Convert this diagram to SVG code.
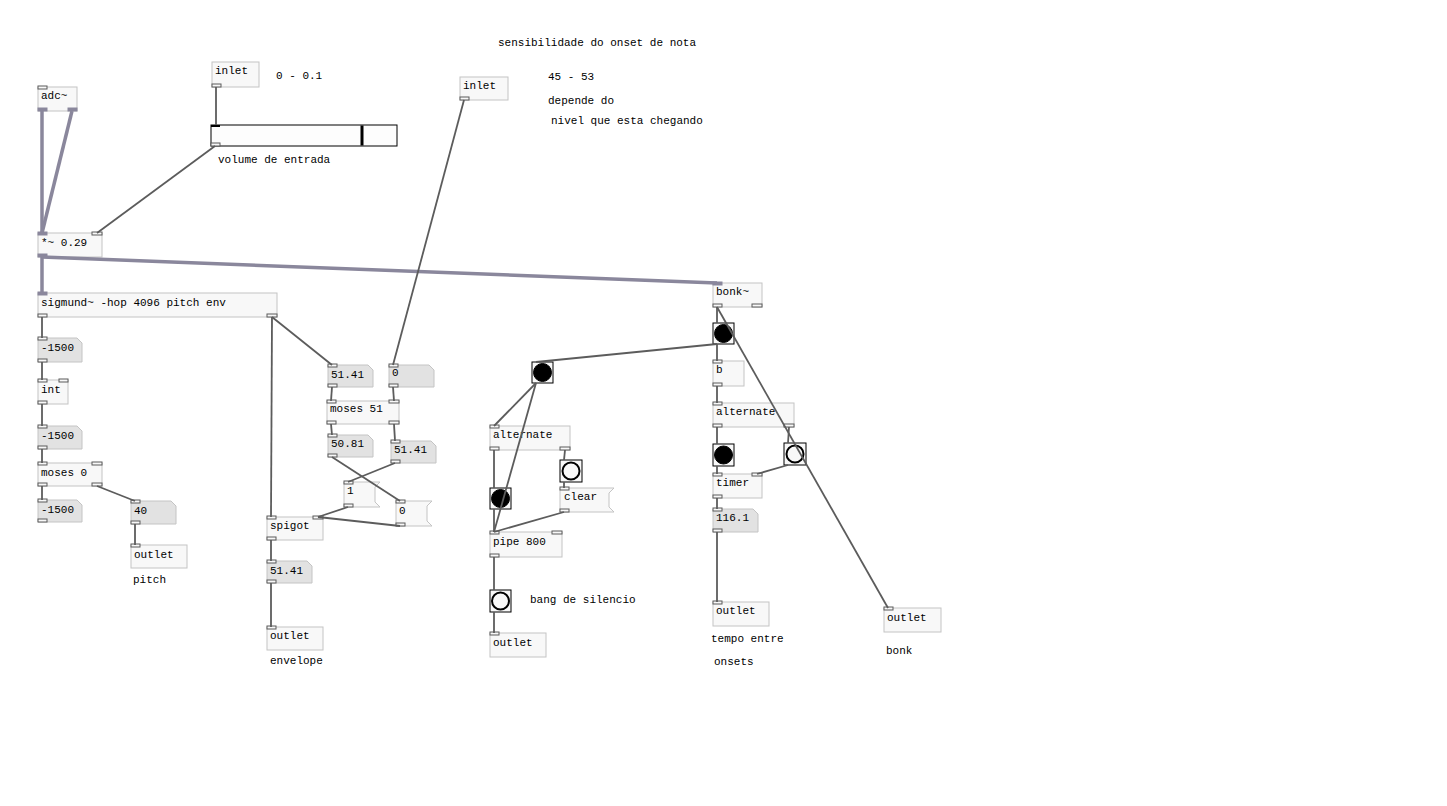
<svg xmlns="http://www.w3.org/2000/svg" width="1447" height="806" viewBox="0 0 1447 806">
<style>
.obj{fill:#f8f8f8;stroke:#c4c4c4;stroke-width:1}
.num{fill:#e2e2e2;stroke:#c4c4c4;stroke-width:1}
.io{fill:#f8f8f8;stroke:#5a5a5a;stroke-width:1}
.sio{fill:#8a879c;stroke:#8a879c;stroke-width:1}
.t{font-family:"Liberation Mono","DejaVu Sans Mono",monospace;font-size:11px;fill:#000}
.c{stroke:#5c5c5c;stroke-width:1.8;fill:none}
.s{stroke:#8a879c;stroke-width:3.5;fill:none}
.bg{fill:#f8f8f8;stroke:#000;stroke-width:1}
.on{fill:#000;stroke:#000;stroke-width:1}
.off{fill:none;stroke:#000;stroke-width:2}
</style>
<rect width="1447" height="806" fill="#fff"/>

<g id="adc">
<rect class="obj" x="38" y="87" width="39" height="24"/>
<rect class="io" x="38" y="86" width="9" height="3"/>
<rect class="sio" x="38" y="108" width="9" height="3"/>
<rect class="sio" x="68" y="108" width="9" height="3"/>
<text class="t" x="41" y="99">adc~</text>
</g>
<g id="inlet1">
<rect class="obj" x="212" y="62" width="47" height="25"/>
<rect class="io" x="212" y="84" width="9" height="3"/>
<text class="t" x="215" y="74">inlet</text>
</g>
<g id="slider">
<rect x="211" y="125" width="186" height="21" fill="#fdfdfd" stroke="#000" stroke-width="1"/>
<rect x="360.5" y="125.5" width="3" height="20" fill="#000"/>
<rect x="211" y="125" width="9" height="2" fill="#000"/>
<rect class="io" x="211" y="143" width="9" height="3"/>
</g>
<g id="mul">
<rect class="obj" x="38" y="233" width="64" height="24"/>
<rect class="sio" x="38" y="232" width="9" height="3"/>
<rect class="io" x="92" y="232" width="10" height="3"/>
<rect class="sio" x="38" y="254" width="9" height="3"/>
<text class="t" x="41" y="246">*~ 0.29</text>
</g>
<g id="sigmund">
<rect class="obj" x="38" y="293" width="239" height="24"/>
<rect class="sio" x="38" y="292" width="9" height="3"/>
<rect class="io" x="38" y="314" width="9" height="3"/>
<rect class="io" x="267" y="314" width="10" height="3"/>
<text class="t" x="41" y="306">sigmund~ -hop 4096 pitch env</text>
</g>
<g id="numA">
<polygon class="num" points="38,338 77,338 82,343 82,362 38,362"/>
<rect class="io" x="38" y="337" width="9" height="3"/>
<rect class="io" x="38" y="359" width="9" height="3"/>
<text class="t" x="41" y="351">-1500</text>
</g>
<g id="int">
<rect class="obj" x="38" y="380" width="30" height="24"/>
<rect class="io" x="38" y="379" width="9" height="3"/>
<rect class="io" x="59" y="379" width="9" height="3"/>
<rect class="io" x="38" y="401" width="9" height="3"/>
<text class="t" x="41" y="393">int</text>
</g>
<g id="numB">
<polygon class="num" points="38,426 77,426 82,431 82,449 38,449"/>
<rect class="io" x="38" y="425" width="9" height="3"/>
<rect class="io" x="38" y="446" width="9" height="3"/>
<text class="t" x="41" y="439">-1500</text>
</g>
<g id="moses0">
<rect class="obj" x="38" y="463" width="64" height="23"/>
<rect class="io" x="38" y="462" width="9" height="3"/>
<rect class="io" x="92" y="462" width="10" height="3"/>
<rect class="io" x="38" y="483" width="9" height="3"/>
<rect class="io" x="92" y="483" width="10" height="3"/>
<text class="t" x="41" y="476">moses 0</text>
</g>
<g id="numC">
<polygon class="num" points="38,500 77,500 82,505 82,522 38,522"/>
<rect class="io" x="38" y="499" width="9" height="3"/>
<rect class="io" x="38" y="519" width="9" height="3"/>
<text class="t" x="41" y="513">-1500</text>
</g>
<g id="num40">
<polygon class="num" points="131,501 171,501 176,506 176,524 131,524"/>
<rect class="io" x="131" y="500" width="9" height="3"/>
<rect class="io" x="131" y="521" width="9" height="3"/>
<text class="t" x="134" y="514">40</text>
</g>
<g id="outletPitch">
<rect class="obj" x="131" y="545" width="56" height="23"/>
<rect class="io" x="131" y="544" width="9" height="3"/>
<text class="t" x="134" y="558">outlet</text>
</g>
<g id="inlet2">
<rect class="obj" x="460" y="77" width="48" height="23"/>
<rect class="io" x="460" y="97" width="9" height="3"/>
<text class="t" x="463" y="89">inlet</text>
</g>
<g id="num5141a">
<polygon class="num" points="328,365 368,365 373,370 373,387 328,387"/>
<rect class="io" x="328" y="364" width="9" height="3"/>
<rect class="io" x="328" y="384" width="9" height="3"/>
<text class="t" x="331" y="378">51.41</text>
</g>
<g id="num0">
<polygon class="num" points="389,365 429,365 434,370 434,387 389,387"/>
<rect class="io" x="389" y="364" width="9" height="3"/>
<rect class="io" x="389" y="384" width="9" height="3"/>
<text class="t" x="392" y="376">0</text>
</g>
<g id="moses51">
<rect class="obj" x="327" y="401" width="72" height="23"/>
<rect class="io" x="327" y="400" width="9" height="3"/>
<rect class="io" x="389" y="400" width="10" height="3"/>
<rect class="io" x="327" y="421" width="9" height="3"/>
<rect class="io" x="389" y="421" width="10" height="3"/>
<text class="t" x="330" y="412">moses 51</text>
</g>
<g id="num5081">
<polygon class="num" points="328,435 368,435 373,440 373,457 328,457"/>
<rect class="io" x="328" y="434" width="9" height="3"/>
<rect class="io" x="328" y="454" width="9" height="3"/>
<text class="t" x="331" y="447">50.81</text>
</g>
<g id="num5141b">
<polygon class="num" points="391,441 431,441 436,446 436,463 391,463"/>
<rect class="io" x="391" y="440" width="9" height="3"/>
<rect class="io" x="391" y="460" width="9" height="3"/>
<text class="t" x="394" y="453">51.41</text>
</g>
<g id="msg1">
<polygon class="obj" points="344,482 380,482 375,487 375,502 380,507 344,507"/>
<rect class="io" x="344" y="481" width="9" height="3"/>
<rect class="io" x="344" y="504" width="9" height="3"/>
<text class="t" x="347" y="494">1</text>
</g>
<g id="msg0">
<polygon class="obj" points="396,501 432,501 427,506 427,521 432,526 396,526"/>
<rect class="io" x="396" y="500" width="9" height="3"/>
<rect class="io" x="396" y="523" width="9" height="3"/>
<text class="t" x="399" y="514">0</text>
</g>
<g id="spigot">
<rect class="obj" x="267" y="517" width="56" height="23"/>
<rect class="io" x="267" y="516" width="9" height="3"/>
<rect class="io" x="313" y="516" width="10" height="3"/>
<rect class="io" x="267" y="537" width="9" height="3"/>
<text class="t" x="270" y="529">spigot</text>
</g>
<g id="num5141c">
<polygon class="num" points="267,561 307,561 312,566 312,583 267,583"/>
<rect class="io" x="267" y="560" width="9" height="3"/>
<rect class="io" x="267" y="580" width="9" height="3"/>
<text class="t" x="270" y="574">51.41</text>
</g>
<g id="outletEnv">
<rect class="obj" x="267" y="627" width="56" height="23"/>
<rect class="io" x="267" y="626" width="9" height="3"/>
<text class="t" x="270" y="639">outlet</text>
</g>
<g id="bang1">
<rect class="bg" x="532" y="362" width="21" height="21"/>
<circle class="on" cx="542.5" cy="372.5" r="9"/>
</g>
<g id="altL">
<rect class="obj" x="490" y="426" width="80" height="24"/>
<rect class="io" x="490" y="425" width="9" height="3"/>
<rect class="io" x="490" y="447" width="9" height="3"/>
<rect class="io" x="560" y="447" width="10" height="3"/>
<text class="t" x="493" y="438">alternate</text>
</g>
<g id="bang2">
<rect class="bg" x="490" y="488" width="21" height="21"/>
<circle class="on" cx="500.5" cy="498.5" r="9"/>
</g>
<g id="bang3">
<rect class="bg" x="560" y="460" width="22" height="22"/>
<circle class="off" cx="571" cy="471" r="8.5"/>
</g>
<g id="clear">
<polygon class="obj" points="560,488 614,488 609,493 609,507 614,512 560,512"/>
<rect class="io" x="560" y="487" width="9" height="3"/>
<rect class="io" x="560" y="509" width="9" height="3"/>
<text class="t" x="564" y="500">clear</text>
</g>
<g id="pipe">
<rect class="obj" x="490" y="532" width="72" height="25"/>
<rect class="io" x="490" y="531" width="9" height="3"/>
<rect class="io" x="552" y="531" width="10" height="3"/>
<rect class="io" x="490" y="554" width="9" height="3"/>
<text class="t" x="493" y="545">pipe 800</text>
</g>
<g id="bang4">
<rect class="bg" x="490" y="590" width="21" height="22"/>
<circle class="off" cx="500.5" cy="601" r="8.5"/>
</g>
<g id="outletSil">
<rect class="obj" x="490" y="633" width="56" height="24"/>
<rect class="io" x="490" y="632" width="9" height="3"/>
<text class="t" x="493" y="646">outlet</text>
</g>
<g id="bonk">
<rect class="obj" x="713" y="283" width="49" height="24"/>
<rect class="sio" x="713" y="282" width="9" height="3"/>
<rect class="io" x="713" y="304" width="9" height="3"/>
<rect class="io" x="752" y="304" width="10" height="3"/>
<text class="t" x="716" y="295">bonk~</text>
</g>
<g id="bangR1">
<rect class="bg" x="713" y="323" width="21" height="21"/>
<circle class="on" cx="723.5" cy="333.5" r="9"/>
</g>
<g id="b">
<rect class="obj" x="713" y="361" width="31" height="25"/>
<rect class="io" x="713" y="360" width="9" height="3"/>
<rect class="io" x="713" y="383" width="9" height="3"/>
<text class="t" x="716" y="373">b</text>
</g>
<g id="altR">
<rect class="obj" x="713" y="403" width="81" height="24"/>
<rect class="io" x="713" y="402" width="9" height="3"/>
<rect class="io" x="713" y="424" width="9" height="3"/>
<rect class="io" x="784" y="424" width="10" height="3"/>
<text class="t" x="716" y="415">alternate</text>
</g>
<g id="bangR2">
<rect class="bg" x="713" y="444" width="21" height="22"/>
<circle class="on" cx="723.5" cy="455" r="9"/>
</g>
<g id="bangR3">
<rect class="bg" x="784" y="443" width="22" height="22"/>
<circle class="off" cx="795" cy="454" r="8.5"/>
</g>
<g id="timer">
<rect class="obj" x="713" y="474" width="49" height="24"/>
<rect class="io" x="713" y="473" width="9" height="3"/>
<rect class="io" x="752" y="473" width="10" height="3"/>
<rect class="io" x="713" y="495" width="9" height="3"/>
<text class="t" x="716" y="486">timer</text>
</g>
<g id="num1161">
<polygon class="num" points="713,509 753,509 758,514 758,532 713,532"/>
<rect class="io" x="713" y="508" width="9" height="3"/>
<rect class="io" x="713" y="529" width="9" height="3"/>
<text class="t" x="716" y="521">116.1</text>
</g>
<g id="outletTime">
<rect class="obj" x="713" y="602" width="56" height="24"/>
<rect class="io" x="713" y="601" width="9" height="3"/>
<text class="t" x="716" y="614">outlet</text>
</g>
<g id="outletBonk">
<rect class="obj" x="884" y="608" width="57" height="24"/>
<rect class="io" x="884" y="607" width="9" height="3"/>
<text class="t" x="887" y="621">outlet</text>
</g>
<g id="comments">
<text class="t" x="276" y="79">0 - 0.1</text>
<text class="t" x="218" y="163">volume de entrada</text>
<text class="t" x="498" y="46">sensibilidade do onset de nota</text>
<text class="t" x="548" y="80">45 - 53</text>
<text class="t" x="548" y="104">depende do</text>
<text class="t" x="551" y="124">nivel que esta chegando</text>
<text class="t" x="133" y="583">pitch</text>
<text class="t" x="270" y="664">envelope</text>
<text class="t" x="530" y="603">bang de silencio</text>
<text class="t" x="711" y="642">tempo entre</text>
<text class="t" x="714" y="665">onsets</text>
<text class="t" x="886" y="654">bonk</text>
</g>

<g id="connectors">
<line class="s" x1="42" y1="111" x2="42" y2="233"/>
<line class="s" x1="72" y1="111" x2="42" y2="233"/>
<line class="s" x1="42" y1="257" x2="42" y2="293"/>
<line class="s" x1="42" y1="257" x2="717" y2="283"/>
<line class="c" x1="216" y1="87" x2="216" y2="125"/>
<line class="c" x1="215" y1="146" x2="97" y2="233"/>
<line class="c" x1="42" y1="317" x2="42" y2="338"/>
<line class="c" x1="42" y1="362" x2="42" y2="380"/>
<line class="c" x1="42" y1="404" x2="42" y2="426"/>
<line class="c" x1="42" y1="449" x2="42" y2="463"/>
<line class="c" x1="42" y1="486" x2="42" y2="500"/>
<line class="c" x1="97" y1="486" x2="135" y2="501"/>
<line class="c" x1="135" y1="524" x2="135" y2="545"/>
<line class="c" x1="272" y1="317" x2="271" y2="517"/>
<line class="c" x1="272" y1="317" x2="332" y2="365"/>
<line class="c" x1="464" y1="100" x2="393" y2="365"/>
<line class="c" x1="332" y1="387" x2="331" y2="401"/>
<line class="c" x1="393" y1="387" x2="394" y2="401"/>
<line class="c" x1="331" y1="424" x2="332" y2="435"/>
<line class="c" x1="394" y1="424" x2="395" y2="441"/>
<line class="c" x1="332" y1="457" x2="400" y2="501"/>
<line class="c" x1="395" y1="463" x2="348" y2="482"/>
<line class="c" x1="348" y1="507" x2="318" y2="517"/>
<line class="c" x1="400" y1="526" x2="318" y2="517"/>
<line class="c" x1="271" y1="540" x2="271" y2="561"/>
<line class="c" x1="271" y1="583" x2="271" y2="627"/>
<line class="c" x1="717" y1="344" x2="536" y2="362"/>
<line class="c" x1="536" y1="383" x2="494" y2="426"/>
<line class="c" x1="536" y1="383" x2="494" y2="532"/>
<line class="c" x1="494" y1="450" x2="494" y2="488"/>
<line class="c" x1="494" y1="509" x2="494" y2="532"/>
<line class="c" x1="565" y1="450" x2="564" y2="460"/>
<line class="c" x1="564" y1="482" x2="564" y2="488"/>
<line class="c" x1="564" y1="512" x2="494" y2="532"/>
<line class="c" x1="494" y1="557" x2="494" y2="590"/>
<line class="c" x1="494" y1="612" x2="494" y2="633"/>
<line class="c" x1="717" y1="307" x2="717" y2="323"/>
<line class="c" x1="717" y1="307" x2="888" y2="608"/>
<line class="c" x1="717" y1="344" x2="717" y2="361"/>
<line class="c" x1="717" y1="386" x2="717" y2="403"/>
<line class="c" x1="717" y1="427" x2="717" y2="444"/>
<line class="c" x1="789" y1="427" x2="788" y2="443"/>
<line class="c" x1="717" y1="466" x2="717" y2="474"/>
<line class="c" x1="788" y1="465" x2="757" y2="474"/>
<line class="c" x1="717" y1="498" x2="717" y2="509"/>
<line class="c" x1="717" y1="532" x2="717" y2="602"/>
</g>
</svg>
